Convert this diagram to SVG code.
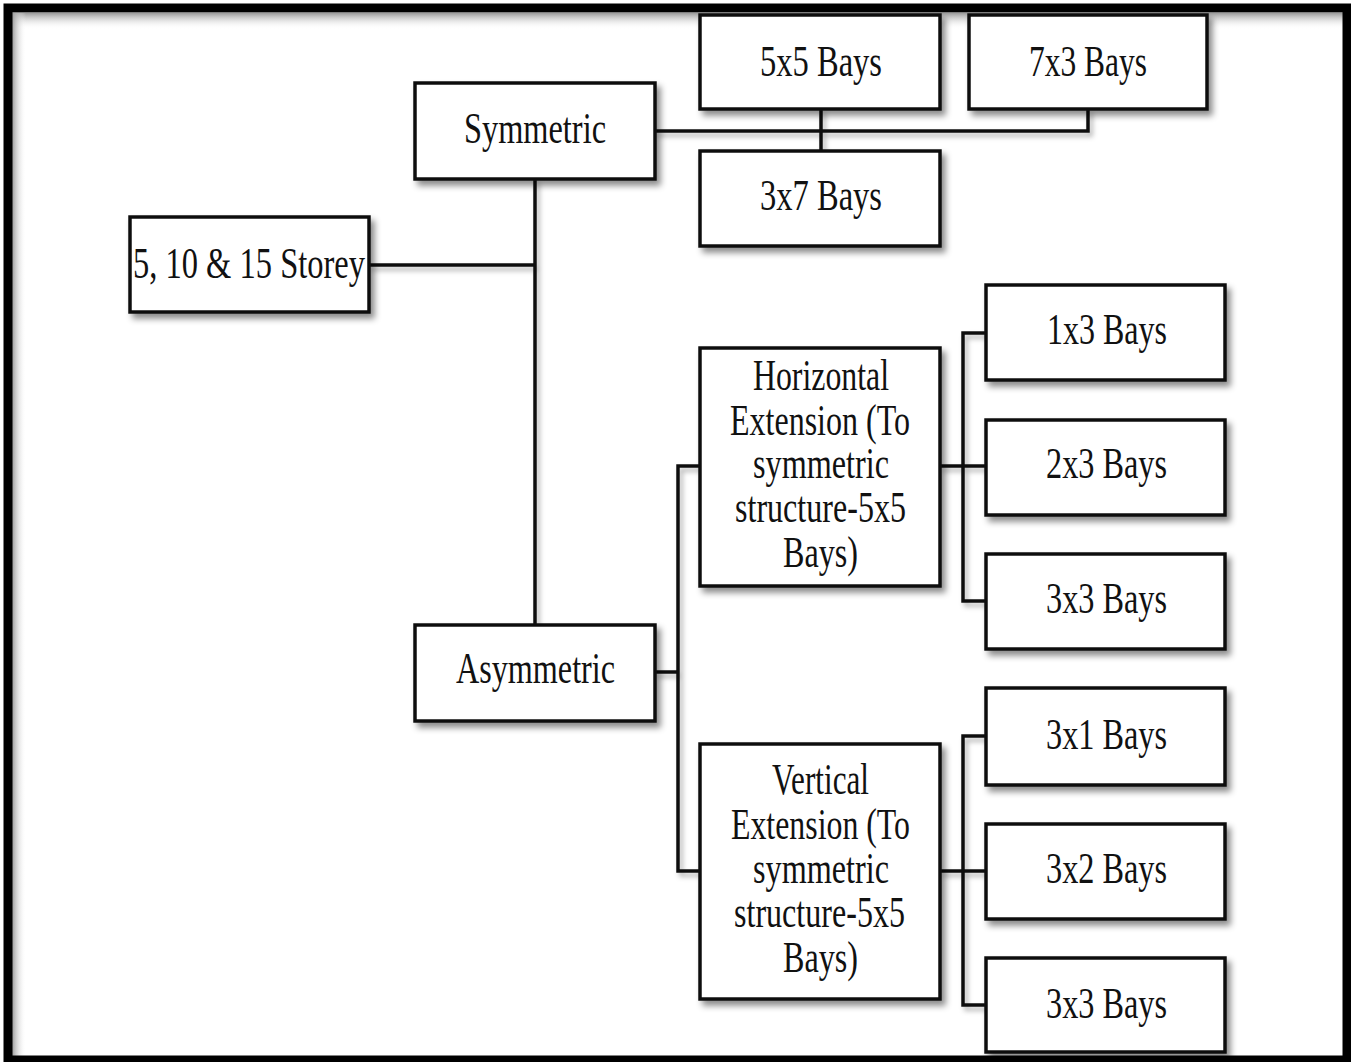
<svg xmlns="http://www.w3.org/2000/svg" width="1351" height="1062" viewBox="0 0 1351 1062">
<defs>
<filter id="sh" x="-10%" y="-10%" width="130%" height="140%">
<feDropShadow dx="4" dy="5" stdDeviation="3" flood-color="#000" flood-opacity="0.45"/>
</filter>
<filter id="lsh" x="-5%" y="-5%" width="115%" height="115%">
<feDropShadow dx="3" dy="4" stdDeviation="2.5" flood-color="#000" flood-opacity="0.3"/>
</filter>
<linearGradient id="gt" x1="0" y1="0" x2="0" y2="1">
<stop offset="0" stop-color="#9a9a9a"/><stop offset="1" stop-color="#fff" stop-opacity="0"/>
</linearGradient>
<linearGradient id="gl" x1="0" y1="0" x2="1" y2="0">
<stop offset="0" stop-color="#9a9a9a"/><stop offset="1" stop-color="#fff" stop-opacity="0"/>
</linearGradient>
</defs>
<style>
.box{fill:#fff;stroke:#111;stroke-width:3.5;filter:url(#sh)}
.t{font-family:"Liberation Serif","Times New Roman",serif;font-size:44px;fill:#111}
.c{fill:none;stroke:#111;stroke-width:3.5;filter:url(#lsh)}
</style>
<rect x="0" y="0" width="1351" height="1062" fill="#fff"/>
<rect x="12" y="13" width="1331" height="16" fill="url(#gt)"/>
<rect x="12" y="13" width="14" height="1043" fill="url(#gl)"/>
<rect x="8" y="8" width="1339" height="1052" fill="none" stroke="#000" stroke-width="9"/>
<g id="connectors">
<path class="c" d="M369,265 H535 M535,179 V625"/>
<path class="c" d="M655,131 H1088 V109 M821,109 V151"/>
<path class="c" d="M655,672 H678 M700,466 H678 V871 H700"/>
<path class="c" d="M940,466 H986 M986,333 H963 V601 H986"/>
<path class="c" d="M940,871 H986 M986,736 H963 V1005 H986"/>
</g>
<g id="storey"><rect class="box" x="130" y="217" width="239" height="95"/><text class="t" x="133" y="278" textLength="232" lengthAdjust="spacingAndGlyphs">5, 10 &amp; 15 Storey</text></g>
<g id="symmetric"><rect class="box" x="415" y="83" width="240" height="96"/><text class="t" x="464" y="143" textLength="142" lengthAdjust="spacingAndGlyphs">Symmetric</text></g>
<g id="b5x5"><rect class="box" x="700" y="15" width="240" height="94"/><text class="t" x="760" y="76" textLength="122" lengthAdjust="spacingAndGlyphs">5x5 Bays</text></g>
<g id="b7x3"><rect class="box" x="969" y="15" width="238" height="94"/><text class="t" x="1029" y="76" textLength="118" lengthAdjust="spacingAndGlyphs">7x3 Bays</text></g>
<g id="b3x7"><rect class="box" x="700" y="151" width="240" height="95"/><text class="t" x="760" y="210" textLength="122" lengthAdjust="spacingAndGlyphs">3x7 Bays</text></g>
<g id="asymmetric"><rect class="box" x="415" y="625" width="240" height="96"/><text class="t" x="456" y="683" textLength="159" lengthAdjust="spacingAndGlyphs">Asymmetric</text></g>
<g id="horizontal"><rect class="box" x="700" y="348" width="240" height="238"/>
<text class="t" x="753" y="390" textLength="136" lengthAdjust="spacingAndGlyphs">Horizontal</text>
<text class="t" x="730" y="435" textLength="180" lengthAdjust="spacingAndGlyphs">Extension (To</text>
<text class="t" x="753" y="478" textLength="136" lengthAdjust="spacingAndGlyphs">symmetric</text>
<text class="t" x="735" y="522" textLength="171" lengthAdjust="spacingAndGlyphs">structure-5x5</text>
<text class="t" x="783" y="567" textLength="75" lengthAdjust="spacingAndGlyphs">Bays)</text></g>
<g id="vertical"><rect class="box" x="700" y="744" width="240" height="255"/>
<text class="t" x="772" y="794" textLength="97" lengthAdjust="spacingAndGlyphs">Vertical</text>
<text class="t" x="731" y="839" textLength="179" lengthAdjust="spacingAndGlyphs">Extension (To</text>
<text class="t" x="753" y="883" textLength="136" lengthAdjust="spacingAndGlyphs">symmetric</text>
<text class="t" x="734" y="927" textLength="171" lengthAdjust="spacingAndGlyphs">structure-5x5</text>
<text class="t" x="783" y="972" textLength="75" lengthAdjust="spacingAndGlyphs">Bays)</text></g>
<g id="b1x3"><rect class="box" x="986" y="285" width="239" height="95"/><text class="t" x="1047" y="344" textLength="120" lengthAdjust="spacingAndGlyphs">1x3 Bays</text></g>
<g id="b2x3"><rect class="box" x="986" y="420" width="239" height="95"/><text class="t" x="1046" y="478" textLength="121" lengthAdjust="spacingAndGlyphs">2x3 Bays</text></g>
<g id="b3x3a"><rect class="box" x="986" y="554" width="239" height="95"/><text class="t" x="1046" y="613" textLength="121" lengthAdjust="spacingAndGlyphs">3x3 Bays</text></g>
<g id="b3x1"><rect class="box" x="986" y="688" width="239" height="97"/><text class="t" x="1046" y="749" textLength="121" lengthAdjust="spacingAndGlyphs">3x1 Bays</text></g>
<g id="b3x2"><rect class="box" x="986" y="824" width="239" height="95"/><text class="t" x="1046" y="883" textLength="121" lengthAdjust="spacingAndGlyphs">3x2 Bays</text></g>
<g id="b3x3b"><rect class="box" x="986" y="958" width="239" height="94"/><text class="t" x="1046" y="1018" textLength="121" lengthAdjust="spacingAndGlyphs">3x3 Bays</text></g>
</svg>
